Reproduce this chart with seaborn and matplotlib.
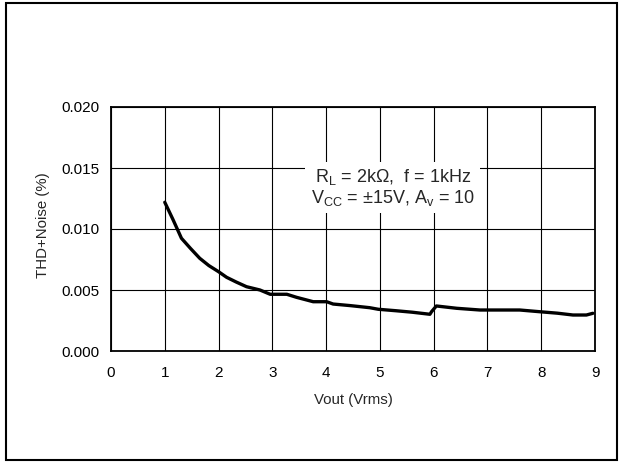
import matplotlib
matplotlib.use("Agg")
import matplotlib.pyplot as plt
import seaborn as sns
import pandas as pd
from matplotlib.patches import Rectangle

# values
vout = [1.00, 1.15, 1.31, 1.48, 1.65, 1.82, 2.00, 2.15, 2.33, 2.52, 2.77, 2.96,
        3.27, 3.45, 3.76, 4.01, 4.13, 4.45, 4.81, 4.97, 5.30, 5.60, 5.93, 5.96,
        6.05, 6.43, 6.86, 7.20, 7.60, 7.97, 8.30, 8.59, 8.84, 8.96]
thdn = [0.01219, 0.01080, 0.00924, 0.00840, 0.00760, 0.00700, 0.00650, 0.00604,
        0.00565, 0.00527, 0.00500, 0.00465, 0.00465, 0.00440, 0.00404, 0.00404,
        0.00385, 0.00372, 0.00355, 0.00342, 0.00330, 0.00318, 0.00301, 0.00322,
        0.00369, 0.00350, 0.00336, 0.00336, 0.00336, 0.00322, 0.00310, 0.00295,
        0.00295, 0.00309]
x_ticks = [0, 1, 2, 3, 4, 5, 6, 7, 8, 9]
y_ticks = [0.000, 0.005, 0.010, 0.015, 0.020]

sns.set_style("white")
plt.rcParams['font.family'] = ['Liberation Sans', 'DejaVu Sans']
plt.rcParams['mathtext.default'] = 'regular'

df = pd.DataFrame({"Vout": vout, "THDN": thdn})

fig = plt.figure(figsize=(6.23, 4.65), dpi=100)
ax = fig.add_axes([111 / 623, 114 / 465, 484 / 623, 244 / 465])

sns.lineplot(data=df, x="Vout", y="THDN", ax=ax, color="black", linewidth=2.4, zorder=3)

ax.set_xlim(0, 9)
ax.set_ylim(0, 0.02)
ax.set_xticks(x_ticks)
ax.set_yticks(y_ticks)
ax.set_yticklabels([f"{v:.3f}" for v in y_ticks])
ax.tick_params(axis="both", labelsize=11, length=0, colors="black")
ax.tick_params(axis="x", pad=10.5)
ax.tick_params(axis="y", pad=8.6)
ax.grid(True, color="black", linewidth=0.8)
ax.set_axisbelow(True)
for sp in ax.spines.values():
    sp.set_visible(True)
    sp.set_color("black")
    sp.set_linewidth(1.3)

ax.set_xlabel("Vout (Vrms)", fontsize=10.8, va="center")
ax.set_ylabel("THD+Noise (%)", fontsize=10.8, va="center")
ax.xaxis.set_label_coords(0.5, -(400 - 351) / 244)
ax.yaxis.set_label_coords((43.5 - 111) / 484, (351 - 225.5) / 244)

ax.text(5.24, 0.0134, "R$_L$ = 2kΩ,  f = 1kHz\nV$_{CC}$ = ±15V, A$_v$ = 10",
        fontsize=13, ha="center", va="center", multialignment="center",
        linespacing=1.05,
        bbox=dict(boxstyle="square,pad=0.3", facecolor="white", edgecolor="none"),
        zorder=4)

# outer frame around the whole figure
fig.patches.append(Rectangle((6 / 623, 5 / 465), 611 / 623, 457 / 465,
                             transform=fig.transFigure, fill=False,
                             edgecolor="black", linewidth=1.5))

fig.savefig("out.png", dpi=100)
